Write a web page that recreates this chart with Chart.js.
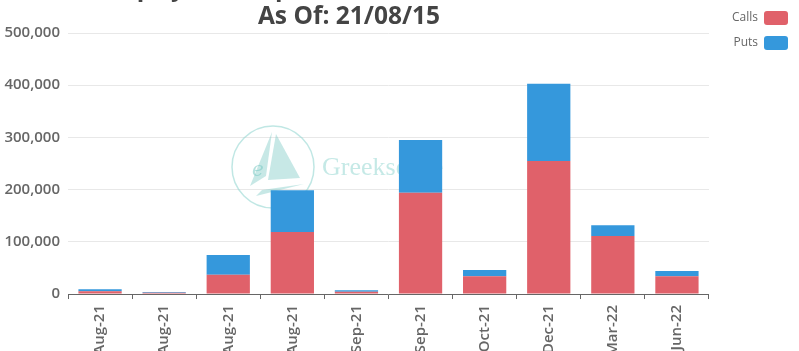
<!DOCTYPE html>
<html>
<head>
<meta charset="utf-8">
<script src="https://cdn.jsdelivr.net/npm/chart.js@4"></script>
<style>
  body { margin: 0; overflow: hidden; background: #fff; }
  #wrap { width: 799px; height: 384px; }
</style>
</head>
<body>
<div id="wrap"><canvas id="oiChart"></canvas></div>
<script>
const expiries = ['19-Aug-21', '20-Aug-21', '26-Aug-21', '27-Aug-21', '02-Sep-21', '30-Sep-21', '28-Oct-21', '30-Dec-21', '31-Mar-22', '30-Jun-22']
const calls = [5500, 2500, 37000, 119000, 4500, 194000, 34000, 255000, 111000, 34000]
const puts = [3500, 1500, 38000, 80000, 3000, 101000, 12000, 148000, 21000, 10000]
const yTicks = [0, 100000, 200000, 300000, 400000, 500000]
const titleLines = ['Expiry Wise Open Interest: Calls vs Puts', 'As Of: 21/08/15']

const FONT = "'Open Sans', sans-serif"

// title sits a bit left of centre and is clipped at the top
const titlePlugin = {
    id: 'shiftedTitle',
    afterDraw(chart) {
        const ctx = chart.ctx
        ctx.save()
        ctx.fillStyle = '#444'
        ctx.font = "bold 24.5px " + FONT
        ctx.textAlign = 'center'
        ctx.textBaseline = 'alphabetic'
        ctx.fillText(titleLines[0], 349, -4)
        ctx.fillText(titleLines[1], 349, 24)
        ctx.restore()
    }
}

// legend a little wider so the plot stops where the original does
const legendWidth = {
    id: 'legendWidth',
    afterInit(chart) {
        const lg = chart.legend
        const fit = lg.fit
        lg.fit = function () {
            fit.call(this)
            this.width += 13
        }
    }
}

// faint logo behind the bars
const watermark = {
    id: 'watermark',
    beforeDatasetsDraw(chart) {
        const ctx = chart.ctx
        ctx.save()
        ctx.strokeStyle = 'rgba(150, 215, 210, 0.6)'
        ctx.lineWidth = 1.5
        ctx.beginPath()
        ctx.arc(273, 167, 41, 0, Math.PI * 2)
        ctx.stroke()
        ctx.fillStyle = 'rgba(130, 205, 200, 0.45)'
        ctx.beginPath()
        ctx.moveTo(272, 132)
        ctx.lineTo(250, 186)
        ctx.lineTo(266, 176)
        ctx.closePath()
        ctx.fill()
        ctx.beginPath()
        ctx.moveTo(276, 134)
        ctx.lineTo(300, 178)
        ctx.lineTo(268, 180)
        ctx.closePath()
        ctx.fill()
        ctx.beginPath()
        ctx.moveTo(256, 196)
        ctx.lineTo(304, 184)
        ctx.lineTo(262, 190)
        ctx.closePath()
        ctx.fill()
        ctx.fillStyle = 'rgba(120, 200, 195, 0.55)'
        ctx.font = "italic 20px 'DejaVu Serif', serif"
        ctx.fillText('e', 252, 176)
        ctx.fillStyle = 'rgba(150, 215, 210, 0.55)'
        ctx.font = "26px 'Liberation Serif', serif"
        ctx.fillText('Greekscape', 322, 175)
        ctx.restore()
    }
}

const ctx = document.querySelector('#oiChart').getContext('2d')

const chart = new Chart(ctx, {
    type: 'bar',
    data: {
        labels: expiries,
        datasets: [
            { label: 'Calls', data: calls, backgroundColor: '#e0616a' },
            { label: 'Puts', data: puts, backgroundColor: '#3598dc' }
        ]
    },
    options: {
        responsive: true,
        maintainAspectRatio: false,
        animation: false,
        barPercentage: 0.9,
        categoryPercentage: 0.75,
        layout: { padding: { top: 0, right: 0, left: 0, bottom: 0 } },
        plugins: {
            // empty title only reserves the space above the plot
            title: {
                display: true,
                text: '',
                font: { size: 10, lineHeight: 1 },
                padding: { top: 23, bottom: 0 }
            },
            tooltip: { enabled: false },
            legend: {
                position: 'right',
                align: 'start',
                rtl: true,
                labels: {
                    boxWidth: 24,
                    boxHeight: 14,
                    useBorderRadius: true,
                    borderRadius: 3,
                    color: '#666',
                    font: { family: FONT, size: 12 },
                    padding: 11
                }
            }
        },
        scales: {
            x: {
                stacked: true,
                grid: { drawOnChartArea: false, color: '#666', tickLength: 5 },
                border: { color: '#666' },
                ticks: {
                    minRotation: 90,
                    maxRotation: 90,
                    autoSkip: false,
                    padding: 6,
                    color: '#666',
                    font: { family: FONT, size: 15, weight: '600' }
                }
            },
            y: {
                stacked: true,
                min: 0,
                max: 500000,
                grid: { color: '#e8e8e8', drawTicks: false },
                border: { display: false },
                afterBuildTicks(scale) {
                    scale.ticks = yTicks.map(v => ({ value: v }))
                },
                afterFit(scale) {
                    scale.width = 68
                },
                ticks: {
                    padding: 8,
                    color: '#666',
                    font: { family: FONT, size: 15, weight: '600' },
                    callback: v => v.toLocaleString('en-US')
                }
            }
        }
    },
    plugins: [watermark, titlePlugin, legendWidth]
})
</script>
</body>
</html>
